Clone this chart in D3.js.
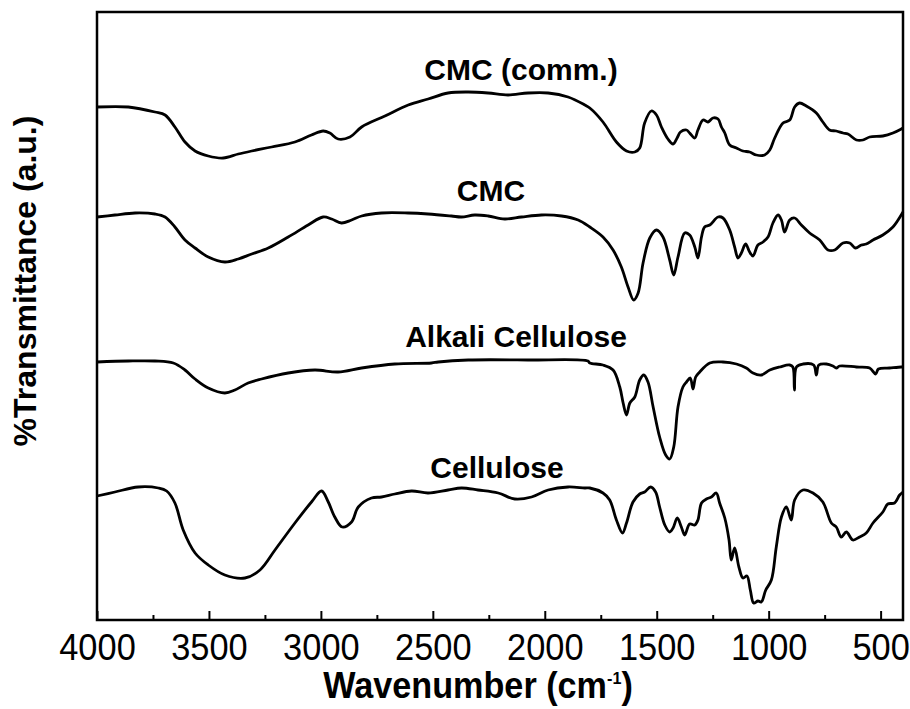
<!DOCTYPE html>
<html><head><meta charset="utf-8">
<script src="https://cdn.jsdelivr.net/npm/d3@7"></script>
<style>body{margin:0;background:#fff} svg{display:block}</style>
</head><body><svg id="chart" width="910" height="709"></svg>
<script>
// ---- data (wavenumber cm-1, transmittance a.u. with vertical stacking offsets) ----
const seriesNames = ["CMC (comm.)", "CMC", "Alkali Cellulose", "Cellulose"];
const majorTicks = [4000, 3500, 3000, 2500, 2000, 1500, 1000, 500];
const minorTicks = [3750, 3250, 2750, 2250, 1750, 1250, 750];

const cmcComm = [[4000,513],[3860,513],[3741,508],[3696,505],[3652,493],[3607,478],[3562,469],[3503,464],[3436,462],[3369,466],[3309,469],[3220,473],[3116,478],[3042,485],[2990,489],[2960,487],[2923,481],[2870,483],[2818,493],[2714,504],[2610,515],[2521,521],[2432,527],[2342,528],[2253,527],[2164,525],[2075,527],[1985,527],[1896,523],[1821,515],[1799,512],[1740,498],[1680,478],[1635,469],[1598,468],[1576,472],[1554,497],[1524,509],[1501,505],[1479,493],[1450,481],[1427,476],[1409,482],[1394,488],[1367,490],[1353,487],[1330,482],[1316,490],[1293,500],[1271,498],[1249,502],[1226,501],[1211,493],[1196,487],[1174,475],[1144,472],[1115,469],[1085,468],[1055,465],[1018,465],[995,470],[973,482],[936,497],[906,500],[884,513],[862,517],[832,514],[787,507],[758,498],[728,490],[698,489],[668,487],[646,486],[608,480],[579,480],[549,483],[490,484],[445,487],[408,491],[400,492]];

const cmc = [[4000,403],[3920,405],[3830,407],[3741,406],[3696,403],[3652,393],[3607,380],[3562,372],[3503,363],[3429,358],[3369,361],[3309,366],[3235,372],[3146,383],[3057,395],[2990,403],[2952,401],[2908,397],[2863,400],[2818,404],[2729,407],[2610,407],[2521,406],[2417,404],[2372,403],[2313,405],[2253,404],[2179,401],[2104,403],[2015,405],[1925,404],[1851,400],[1799,393],[1740,383],[1695,370],[1658,353],[1628,333],[1603,320],[1583,327],[1561,357],[1531,382],[1501,390],[1472,383],[1442,360],[1424,345],[1405,363],[1375,387],[1353,385],[1330,373],[1316,362],[1300,383],[1286,393],[1263,395],[1226,403],[1204,402],[1174,390],[1152,373],[1137,362],[1122,367],[1103,376],[1085,368],[1070,364],[1048,375],[1025,378],[1003,383],[981,397],[958,405],[943,400],[929,388],[906,400],[884,402],[854,395],[817,387],[772,380],[735,370],[705,370],[668,377],[638,377],[612,372],[586,375],[564,376],[534,380],[490,385],[445,393],[408,405],[400,408]];

const alkali = [[4000,258],[3860,259],[3741,259],[3659,257],[3607,250],[3562,241],[3503,232],[3429,227],[3384,230],[3325,237],[3265,241],[3146,247],[3027,250],[2923,248],[2818,252],[2670,256],[2506,257],[2476,258],[2342,260],[2075,260],[1807,259],[1799,257],[1740,255],[1695,250],[1665,233],[1650,217],[1635,205],[1620,217],[1598,223],[1576,240],[1558,245],[1539,238],[1516,213],[1487,183],[1460,165],[1442,161],[1424,173],[1405,213],[1383,233],[1367,238],[1350,242],[1338,231],[1326,243],[1308,248],[1263,257],[1204,258],[1144,256],[1100,252],[1070,247],[1033,245],[995,250],[951,253],[906,255],[892,253],[885,230],[876,253],[847,256],[799,255],[787,245],[776,255],[742,256],[713,254],[698,252],[683,254],[608,253],[549,252],[522,246],[510,251],[460,252],[408,253],[400,253]];

const cellulose = [[4000,124],[3920,128],[3816,133],[3726,132],[3689,129],[3652,117],[3615,90],[3562,67],[3503,55],[3429,45],[3339,42],[3272,50],[3205,70],[3116,97],[3042,118],[2997,129],[2967,118],[2938,103],[2905,93],[2863,98],[2833,113],[2774,122],[2729,123],[2670,126],[2595,129],[2521,127],[2432,130],[2372,132],[2298,130],[2208,127],[2134,121],[2059,123],[1985,130],[1896,133],[1821,132],[1799,132],[1740,127],[1710,120],[1680,100],[1653,87],[1635,97],[1606,118],[1576,126],[1554,128],[1527,133],[1505,128],[1487,113],[1464,95],[1442,88],[1427,92],[1408,102],[1390,93],[1375,85],[1353,96],[1330,95],[1316,100],[1300,117],[1278,121],[1256,123],[1234,127],[1219,117],[1196,102],[1177,80],[1167,60],[1152,72],[1133,53],[1115,42],[1097,44],[1082,30],[1067,17],[1048,19],[1033,18],[1013,30],[988,40],[966,73],[943,103],[921,113],[899,100],[884,120],[847,130],[802,127],[758,118],[720,97],[698,93],[676,83],[653,88],[624,80],[594,83],[564,87],[534,97],[490,108],[468,116],[438,117],[415,125],[400,128]];

const seriesData = [cmcComm, cmc, alkali, cellulose];

// ---- layout ----
const svg = d3.select("#chart");
const font = "'Liberation Sans', Arial, Helvetica, sans-serif";
const x = d3.scaleLinear().domain([4000, 400]).range([97, 903]);
const y = d3.scaleLinear().domain([0, 608]).range([620, 12]);

const line = d3.line()
  .x(d => x(d[0])).y(d => y(d[1]))
  .curve(d3.curveCatmullRom.alpha(0.5));

svg.append("g").selectAll("path").data(seriesData).join("path")
  .attr("d", line).attr("fill", "none").attr("stroke", "#000")
  .attr("stroke-width", 2.8).attr("stroke-linejoin", "round");

// frame
svg.append("rect").attr("x", 97).attr("y", 12).attr("width", 806).attr("height", 608)
  .attr("fill", "none").attr("stroke", "#000").attr("stroke-width", 2.5);

// bottom axis: major + minor ticks pointing inward
const gMaj = svg.append("g").attr("transform", "translate(0,620)")
  .call(d3.axisBottom(x).tickValues(majorTicks).tickSize(-9).tickFormat(d3.format("d")));
gMaj.select(".domain").remove();
gMaj.selectAll(".tick line").attr("stroke", "#000").attr("stroke-width", 2);
gMaj.selectAll(".tick text").attr("y", 0).attr("dy", 0)
  .attr("transform", "translate(0,40) scale(0.93,1)")
  .attr("font-family", font).attr("font-size", 37).attr("fill", "#000");

const gMin = svg.append("g").attr("transform", "translate(0,620)")
  .call(d3.axisBottom(x).tickValues(minorTicks).tickSize(-5).tickFormat(""));
gMin.select(".domain").remove();
gMin.selectAll(".tick line").attr("stroke", "#000").attr("stroke-width", 2);

// axis titles
const xt = svg.append("text").attr("text-anchor", "middle")
  .attr("transform", "translate(478,698) scale(0.95,1)")
  .attr("font-family", font).attr("font-weight", "bold").attr("font-size", 36).attr("fill", "#000");
xt.append("tspan").text("Wavenumber (cm");
xt.append("tspan").attr("font-size", 17).attr("dy", -14).text("-1");
xt.append("tspan").attr("dy", 14).text(")");

svg.append("text").attr("transform", "translate(36,281) rotate(-90)")
  .attr("text-anchor", "middle").attr("font-family", font).attr("font-weight", "bold")
  .attr("font-size", 32).attr("fill", "#000").text("%Transmittance (a.u.)");

// series labels
const labelPos = [[521, 80], [491, 201], [516, 347], [497, 478]];
svg.append("g").selectAll("text").data(seriesNames).join("text")
  .attr("x", (d, i) => labelPos[i][0]).attr("y", (d, i) => labelPos[i][1])
  .attr("text-anchor", "middle").attr("font-family", font).attr("font-weight", "bold")
  .attr("font-size", 30).attr("fill", "#000").text(d => d);
</script></body></html>
